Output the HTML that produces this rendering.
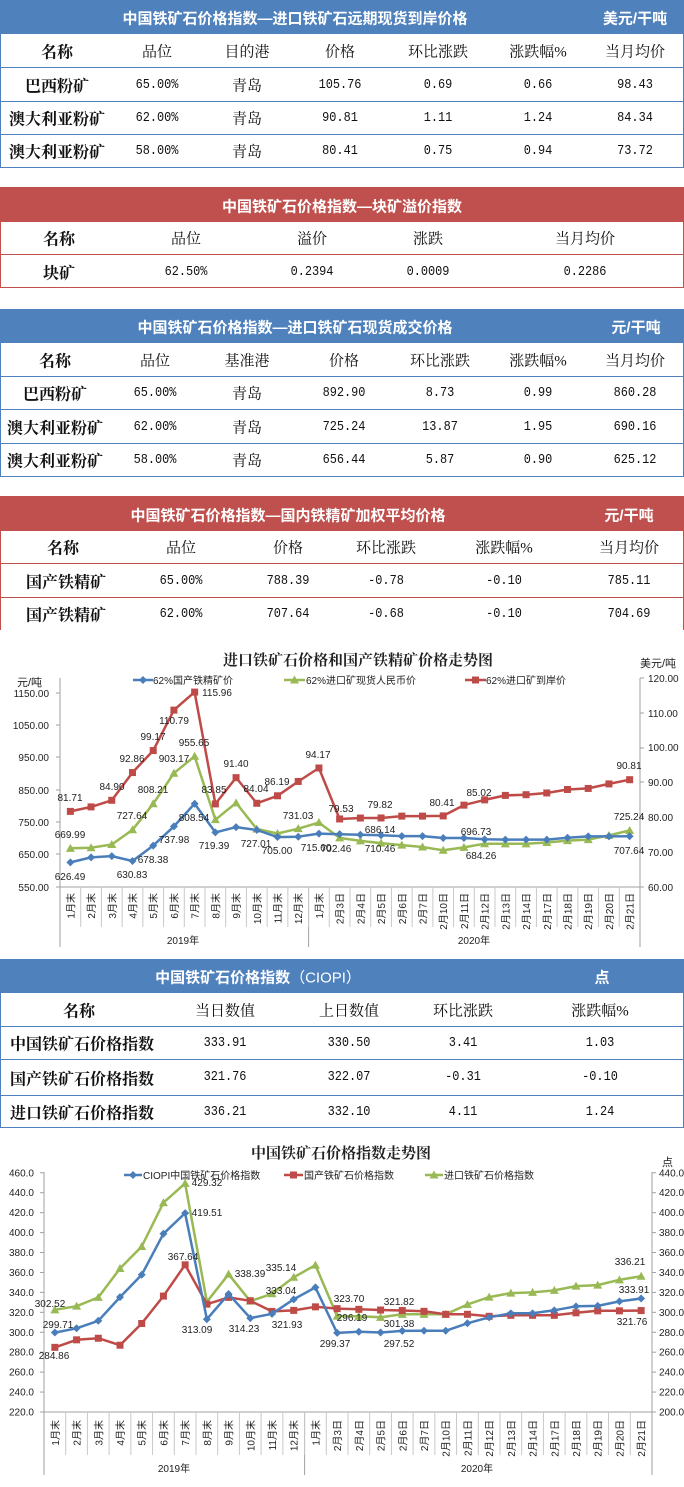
<!DOCTYPE html>
<html><head><meta charset="utf-8">
<style>
*{margin:0;padding:0;box-sizing:border-box}
body{width:684px;height:1487px;position:relative;background:#fff;overflow:hidden;font-family:"Liberation Sans","Noto Sans CJK SC",sans-serif}
.hd{position:absolute;left:0;width:684px;color:#fff;font-weight:bold;font-size:15px;font-family:"Liberation Sans","Noto Sans CJK SC",sans-serif}
.bl{background:#4f81bd}.rd{background:#c0504d}
.box{position:absolute;left:0;width:684px;border-left:1px solid;border-right:1px solid}
.ln{position:absolute;left:0;width:684px;height:1px}
.t{position:absolute;transform:translate(-50%,-50%);white-space:nowrap;color:#111}
.h{font-family:"Liberation Serif","Noto Serif CJK SC",serif;font-size:15px}
.n{font-family:"Liberation Serif","Noto Serif CJK SC",serif;font-size:16px;font-weight:bold}
.m{font-family:"Liberation Mono",monospace;font-size:14px;transform:translate(-50%,-50%) scaleX(0.85)}
.w{color:#fff;font-weight:bold;font-size:15px}
.L{position:absolute;transform:translateY(-50%);white-space:nowrap;color:#111}
svg{position:absolute;left:0;top:0}
svg text{font-family:"Liberation Sans","Noto Sans CJK SC",sans-serif;fill:#222}
</style></head><body>

<!-- Table 1 -->
<div class="hd bl" style="top:0;height:34px"></div>
<div class="t w" style="left:295px;top:18px">中国铁矿石价格指数—进口铁矿石远期现货到岸价格</div>
<div class="t w" style="left:635px;top:18px">美元/干吨</div>
<div class="box" style="top:34px;height:134px;border-color:#4f81bd"></div>
<div class="ln" style="top:67px;background:#4f81bd"></div>
<div class="ln" style="top:101px;background:#4f81bd"></div>
<div class="ln" style="top:134px;background:#4f81bd"></div>
<div class="ln" style="top:167px;background:#4f81bd"></div>
<div class="t n" style="left:57px;top:51px">名称</div>
<div class="t h" style="left:157px;top:51px">品位</div>
<div class="t h" style="left:247px;top:51px">目的港</div>
<div class="t h" style="left:340px;top:51px">价格</div>
<div class="t h" style="left:438px;top:51px">环比涨跌</div>
<div class="t h" style="left:538px;top:51px">涨跌幅%</div>
<div class="t h" style="left:635px;top:51px">当月均价</div>
<div class="t n" style="left:57px;top:85px">巴西粉矿</div>
<div class="t m" style="left:157px;top:85px">65.00%</div>
<div class="t h" style="left:247px;top:85px">青岛</div>
<div class="t m" style="left:340px;top:85px">105.76</div>
<div class="t m" style="left:438px;top:85px">0.69</div>
<div class="t m" style="left:538px;top:85px">0.66</div>
<div class="t m" style="left:635px;top:85px">98.43</div>
<div class="t n" style="left:57px;top:118px">澳大利亚粉矿</div>
<div class="t m" style="left:157px;top:118px">62.00%</div>
<div class="t h" style="left:247px;top:118px">青岛</div>
<div class="t m" style="left:340px;top:118px">90.81</div>
<div class="t m" style="left:438px;top:118px">1.11</div>
<div class="t m" style="left:538px;top:118px">1.24</div>
<div class="t m" style="left:635px;top:118px">84.34</div>
<div class="t n" style="left:57px;top:151px">澳大利亚粉矿</div>
<div class="t m" style="left:157px;top:151px">58.00%</div>
<div class="t h" style="left:247px;top:151px">青岛</div>
<div class="t m" style="left:340px;top:151px">80.41</div>
<div class="t m" style="left:438px;top:151px">0.75</div>
<div class="t m" style="left:538px;top:151px">0.94</div>
<div class="t m" style="left:635px;top:151px">73.72</div>

<!-- Table 2 -->
<div class="hd rd" style="top:187px;height:35px"></div>
<div class="t w" style="left:342px;top:206px">中国铁矿石价格指数—块矿溢价指数</div>
<div class="box" style="top:222px;height:66px;border-color:#c0504d"></div>
<div class="ln" style="top:221px;background:#c0504d"></div>
<div class="ln" style="top:254px;background:#c0504d"></div>
<div class="ln" style="top:287px;background:#c0504d"></div>
<div class="t n" style="left:59px;top:238px">名称</div>
<div class="t h" style="left:186px;top:238px">品位</div>
<div class="t h" style="left:312px;top:238px">溢价</div>
<div class="t h" style="left:428px;top:238px">涨跌</div>
<div class="t h" style="left:585px;top:238px">当月均价</div>
<div class="t n" style="left:59px;top:272px">块矿</div>
<div class="t m" style="left:186px;top:272px">62.50%</div>
<div class="t m" style="left:312px;top:272px">0.2394</div>
<div class="t m" style="left:428px;top:272px">0.0009</div>
<div class="t m" style="left:585px;top:272px">0.2286</div>

<!-- Table 3 -->
<div class="hd bl" style="top:309px;height:34px"></div>
<div class="t w" style="left:295px;top:327px">中国铁矿石价格指数—进口铁矿石现货成交价格</div>
<div class="t w" style="left:636px;top:327px">元/干吨</div>
<div class="box" style="top:343px;height:134px;border-color:#4f81bd"></div>
<div class="ln" style="top:376px;background:#4f81bd"></div>
<div class="ln" style="top:409px;background:#4f81bd"></div>
<div class="ln" style="top:443px;background:#4f81bd"></div>
<div class="ln" style="top:476px;background:#4f81bd"></div>
<div class="t n" style="left:55px;top:360px">名称</div>
<div class="t h" style="left:155px;top:360px">品位</div>
<div class="t h" style="left:247px;top:360px">基准港</div>
<div class="t h" style="left:344px;top:360px">价格</div>
<div class="t h" style="left:440px;top:360px">环比涨跌</div>
<div class="t h" style="left:538px;top:360px">涨跌幅%</div>
<div class="t h" style="left:635px;top:360px">当月均价</div>
<div class="t n" style="left:55px;top:393px">巴西粉矿</div>
<div class="t m" style="left:155px;top:393px">65.00%</div>
<div class="t h" style="left:247px;top:393px">青岛</div>
<div class="t m" style="left:344px;top:393px">892.90</div>
<div class="t m" style="left:440px;top:393px">8.73</div>
<div class="t m" style="left:538px;top:393px">0.99</div>
<div class="t m" style="left:635px;top:393px">860.28</div>
<div class="t n" style="left:55px;top:427px">澳大利亚粉矿</div>
<div class="t m" style="left:155px;top:427px">62.00%</div>
<div class="t h" style="left:247px;top:427px">青岛</div>
<div class="t m" style="left:344px;top:427px">725.24</div>
<div class="t m" style="left:440px;top:427px">13.87</div>
<div class="t m" style="left:538px;top:427px">1.95</div>
<div class="t m" style="left:635px;top:427px">690.16</div>
<div class="t n" style="left:55px;top:460px">澳大利亚粉矿</div>
<div class="t m" style="left:155px;top:460px">58.00%</div>
<div class="t h" style="left:247px;top:460px">青岛</div>
<div class="t m" style="left:344px;top:460px">656.44</div>
<div class="t m" style="left:440px;top:460px">5.87</div>
<div class="t m" style="left:538px;top:460px">0.90</div>
<div class="t m" style="left:635px;top:460px">625.12</div>

<!-- Table 4 -->
<div class="hd rd" style="top:496px;height:35px"></div>
<div class="t w" style="left:288px;top:515px">中国铁矿石价格指数—国内铁精矿加权平均价格</div>
<div class="t w" style="left:629px;top:515px">元/干吨</div>
<div class="box" style="top:531px;height:99px;border-color:#c0504d"></div>
<div class="ln" style="top:530px;background:#c0504d"></div>
<div class="ln" style="top:563px;background:#c0504d"></div>
<div class="ln" style="top:597px;background:#c0504d"></div>
<div class="t n" style="left:63px;top:547px">名称</div>
<div class="t h" style="left:181px;top:547px">品位</div>
<div class="t h" style="left:288px;top:547px">价格</div>
<div class="t h" style="left:386px;top:547px">环比涨跌</div>
<div class="t h" style="left:504px;top:547px">涨跌幅%</div>
<div class="t h" style="left:629px;top:547px">当月均价</div>
<div class="t n" style="left:66px;top:581px">国产铁精矿</div>
<div class="t m" style="left:181px;top:581px">65.00%</div>
<div class="t m" style="left:288px;top:581px">788.39</div>
<div class="t m" style="left:386px;top:581px">-0.78</div>
<div class="t m" style="left:504px;top:581px">-0.10</div>
<div class="t m" style="left:629px;top:581px">785.11</div>
<div class="t n" style="left:66px;top:614px">国产铁精矿</div>
<div class="t m" style="left:181px;top:614px">62.00%</div>
<div class="t m" style="left:288px;top:614px">707.64</div>
<div class="t m" style="left:386px;top:614px">-0.68</div>
<div class="t m" style="left:504px;top:614px">-0.10</div>
<div class="t m" style="left:629px;top:614px">704.69</div>

<!-- Table 5 -->
<div class="hd bl" style="top:959px;height:34px"></div>
<div class="t w" style="left:258px;top:977px">中国铁矿石价格指数<span style="font-weight:normal">（CIOPI）</span></div>
<div class="t w" style="left:602px;top:977px">点</div>
<div class="box" style="top:993px;height:135px;border-color:#4f81bd"></div>
<div class="ln" style="top:1026px;background:#4f81bd"></div>
<div class="ln" style="top:1059px;background:#4f81bd"></div>
<div class="ln" style="top:1095px;background:#4f81bd"></div>
<div class="ln" style="top:1127px;background:#4f81bd"></div>
<div class="t n" style="left:79px;top:1010px">名称</div>
<div class="t h" style="left:225px;top:1010px">当日数值</div>
<div class="t h" style="left:349px;top:1010px">上日数值</div>
<div class="t h" style="left:463px;top:1010px">环比涨跌</div>
<div class="t h" style="left:600px;top:1010px">涨跌幅%</div>
<div class="L n" style="left:10px;top:1043px">中国铁矿石价格指数</div>
<div class="t m" style="left:225px;top:1043px">333.91</div>
<div class="t m" style="left:349px;top:1043px">330.50</div>
<div class="t m" style="left:463px;top:1043px">3.41</div>
<div class="t m" style="left:600px;top:1043px">1.03</div>
<div class="L n" style="left:10px;top:1078px">国产铁矿石价格指数</div>
<div class="t m" style="left:225px;top:1077px">321.76</div>
<div class="t m" style="left:349px;top:1077px">322.07</div>
<div class="t m" style="left:463px;top:1077px">-0.31</div>
<div class="t m" style="left:600px;top:1077px">-0.10</div>
<div class="L n" style="left:10px;top:1112px">进口铁矿石价格指数</div>
<div class="t m" style="left:225px;top:1112px">336.21</div>
<div class="t m" style="left:349px;top:1112px">332.10</div>
<div class="t m" style="left:463px;top:1112px">4.11</div>
<div class="t m" style="left:600px;top:1112px">1.24</div>

<svg id="g" width="684" height="1487" viewBox="0 0 684 1487"></svg>

<svg width="684" height="1487" viewBox="0 0 684 1487">
<!-- chart 1 text -->
<text x="358" y="665" font-size="15" font-weight="bold" text-anchor="middle" style="font-family:'Liberation Serif','Noto Serif CJK SC',serif">进口铁矿石价格和国产铁精矿价格走势图</text>
<text x="17" y="686" font-size="11">元/吨</text>
<text x="640" y="667" font-size="11">美元/吨</text>
<g font-size="10" text-anchor="end">
<text x="49" y="697">1150.00</text><text x="49" y="729">1050.00</text><text x="49" y="761">950.00</text><text x="49" y="794">850.00</text><text x="49" y="826">750.00</text><text x="49" y="858">650.00</text><text x="49" y="891">550.00</text>
</g>
<g font-size="10">
<text x="648" y="682">120.00</text><text x="648" y="717">110.00</text><text x="648" y="751">100.00</text><text x="648" y="786">90.00</text><text x="648" y="821">80.00</text><text x="648" y="856">70.00</text><text x="648" y="891">60.00</text>
</g>
<g font-size="10">
<text x="153" y="684">62%国产铁精矿价</text>
<text x="306" y="684">62%进口矿现货人民币价</text>
<text x="486" y="684">62%进口矿到岸价</text>
</g>
<g font-size="10" text-anchor="middle">
<text x="70" y="801">81.71</text><text x="70" y="838">669.99</text><text x="70" y="880">626.49</text>
<text x="112" y="790">84.90</text><text x="132" y="762">92.86</text><text x="132" y="819">727.64</text><text x="132" y="878">630.83</text>
<text x="153" y="740">99.17</text><text x="153" y="793">808.21</text><text x="153" y="863">678.38</text>
<text x="174" y="724">110.79</text><text x="174" y="762">903.17</text><text x="174" y="843">737.98</text>
<text x="217" y="696">115.96</text><text x="194" y="746">955.65</text><text x="194" y="821">808.54</text>
<text x="214" y="793">83.85</text><text x="214" y="849">719.39</text><text x="236" y="767">91.40</text>
<text x="256" y="792">84.04</text><text x="256" y="847">727.01</text><text x="277" y="785">86.19</text><text x="277" y="854">705.00</text>
<text x="298" y="819">731.03</text><text x="318" y="758">94.17</text><text x="316" y="851">715.60</text><text x="336" y="852">702.46</text>
<text x="341" y="812">79.53</text><text x="380" y="808">79.82</text><text x="380" y="833">686.14</text><text x="380" y="852">710.46</text>
<text x="442" y="806">80.41</text><text x="476" y="835">696.73</text><text x="481" y="859">684.26</text><text x="479" y="796">85.02</text>
<text x="629" y="769">90.81</text><text x="629" y="820">725.24</text><text x="629" y="854">707.64</text>
</g>
<g font-size="10" text-anchor="end" id="cat1"></g>
<text x="183" y="944" font-size="10" text-anchor="middle">2019年</text>
<text x="474" y="944" font-size="10" text-anchor="middle">2020年</text>

<!-- chart 2 text -->
<text x="341" y="1158" font-size="15" font-weight="bold" text-anchor="middle" style="font-family:'Liberation Serif','Noto Serif CJK SC',serif">中国铁矿石价格指数走势图</text>
<text x="662" y="1166" font-size="11">点</text>
<g font-size="10" text-anchor="end" id="yl2"></g>
<g font-size="10" id="yr2"></g>
<g font-size="10">
<text x="143" y="1179">CIOPI中国铁矿石价格指数</text>
<text x="304" y="1179">国产铁矿石价格指数</text>
<text x="444" y="1179">进口铁矿石价格指数</text>
</g>
<g font-size="10" text-anchor="middle">
<text x="50" y="1307">302.52</text><text x="58" y="1328">299.71</text><text x="54" y="1359">284.86</text>
<text x="207" y="1186">429.32</text><text x="207" y="1216">419.51</text><text x="183" y="1260">367.64</text>
<text x="197" y="1333">313.09</text><text x="250" y="1277">338.39</text><text x="244" y="1332">314.23</text>
<text x="281" y="1271">335.14</text><text x="281" y="1294">333.04</text><text x="287" y="1328">321.93</text>
<text x="349" y="1302">323.70</text><text x="352" y="1321">296.19</text><text x="335" y="1347">299.37</text>
<text x="399" y="1305">321.82</text><text x="399" y="1327">301.38</text><text x="399" y="1347">297.52</text>
<text x="630" y="1265">336.21</text><text x="634" y="1293">333.91</text><text x="632" y="1325">321.76</text>
</g>
<g font-size="10" text-anchor="end" id="cat2"></g>
<text x="174" y="1472" font-size="10" text-anchor="middle">2019年</text>
<text x="477" y="1472" font-size="10" text-anchor="middle">2020年</text>
</svg>

<script>
var cats=["1月末","2月末","3月末","4月末","5月末","6月末","7月末","8月末","9月末","10月末","11月末","12月末","1月末","2月3日","2月4日","2月5日","2月6日","2月7日","2月10日","2月11日","2月12日","2月13日","2月14日","2月17日","2月18日","2月19日","2月20日","2月21日"];
var NS="http://www.w3.org/2000/svg";
function el(p,t,a,txt){var e=document.createElementNS(NS,t);for(var k in a)e.setAttribute(k,a[k]);if(txt!=null)e.textContent=txt;p.appendChild(e);return e;}
var g=document.getElementById('g');
var B="#4a7ebb",R="#be4b48",G="#98b954",AX="#a0a0a0";
function series(xs,ys,col,mk){
  var pts=xs.map(function(x,i){return x.toFixed(1)+","+ys[i].toFixed(1)}).join(" ");
  el(g,'polyline',{points:pts,fill:'none',stroke:col,'stroke-width':2.5,'stroke-linejoin':'round'});
  xs.forEach(function(x,i){var y=ys[i];
    if(mk=='d')el(g,'polygon',{points:(x)+","+(y-4)+" "+(x+4)+","+y+" "+x+","+(y+4)+" "+(x-4)+","+y,fill:col});
    else if(mk=='s')el(g,'rect',{x:x-3.5,y:y-3.5,width:7,height:7,fill:col});
    else el(g,'polygon',{points:x+","+(y-4.5)+" "+(x+4.5)+","+(y+3.5)+" "+(x-4.5)+","+(y+3.5),fill:col});
  });
}
// chart 1
var x1=cats.map(function(c,i){return 70.36+20.714*i});
function yL(v){return 887-(v-550)*0.3222}
function yR(r){return 887-(r-60)*3.483}
el(g,'line',{x1:60,y1:678,x2:60,y2:947,stroke:AX});
el(g,'line',{x1:640,y1:678,x2:640,y2:947,stroke:AX});
el(g,'line',{x1:60,y1:887,x2:640,y2:887,stroke:AX});
el(g,'line',{x1:308.6,y1:887,x2:308.6,y2:947,stroke:AX});
for(var i=1;i<28;i++){var xx=60+20.714*i;el(g,'line',{x1:xx,y1:887,x2:xx,y2:927,stroke:'#c8c8c8'});}
[693,725,757,790,822,854,887].forEach(function(y){el(g,'line',{x1:56,y1:y,x2:60,y2:y,stroke:AX})});
[678,713,748,782,817,852,887].forEach(function(y){el(g,'line',{x1:640,y1:y,x2:644,y2:y,stroke:AX})});
var b1=[626.49,642,646,630.83,678.38,737.98,808.54,719.39,736,727.01,705,706,715.6,714,712,710.46,708,708,702,702,698,697,697,697,703,707,707,707.64];
var gr1=[669.99,672,682,727.64,808.21,903.17,955.65,759,811,730,716,731.03,750,702.46,693,686.14,680,674,664,673,684.26,684,684,688,694,697,710,725.24];
var r1=[81.71,83,84.9,92.86,99.17,110.79,115.96,83.85,91.4,84.04,86.19,90.3,94.17,79.53,79.8,79.82,80.35,80.35,80.41,83.5,85.02,86.3,86.5,87.0,88.0,88.3,89.6,90.81];
series(x1,gr1.map(yL),G,'t');
series(x1,b1.map(yL),B,'d');
series(x1,r1.map(yR),R,'s');
// legend 1
el(g,'line',{x1:133,y1:680,x2:153,y2:680,stroke:B,'stroke-width':2.5});el(g,'polygon',{points:"143,676 147,680 143,684 139,680",fill:B});
el(g,'line',{x1:284,y1:680,x2:305,y2:680,stroke:G,'stroke-width':2.5});el(g,'polygon',{points:"294.5,675.5 299,683.5 290,683.5",fill:G});
el(g,'line',{x1:465,y1:680,x2:486,y2:680,stroke:R,'stroke-width':2.5});el(g,'rect',{x:472,y:676.5,width:7,height:7,fill:R});
var c1=document.getElementById('cat1');
x1.forEach(function(x,i){el(c1,'text',{x:x+4,y:893,transform:'rotate(-90 '+(x+4)+' 893)'},cats[i])});
// chart 2
var x2=cats.map(function(c,i){return 54.86+21.714*i});
function y2(v){return 1412-(v-220)*0.9967}
el(g,'line',{x1:44,y1:1172,x2:44,y2:1475,stroke:AX});
el(g,'line',{x1:652,y1:1172,x2:652,y2:1475,stroke:AX});
el(g,'line',{x1:44,y1:1412,x2:652,y2:1412,stroke:AX});
el(g,'line',{x1:304.6,y1:1412,x2:304.6,y2:1475,stroke:AX});
for(var i=1;i<28;i++){var xx=44+21.714*i;el(g,'line',{x1:xx,y1:1412,x2:xx,y2:1455,stroke:'#c8c8c8'});}
var yl=document.getElementById('yl2'),yr=document.getElementById('yr2');
for(var v=220;v<=460;v+=20){var yy=y2(v);
 el(g,'line',{x1:40,y1:yy,x2:44,y2:yy,stroke:AX});el(g,'line',{x1:652,y1:yy,x2:656,y2:yy,stroke:AX});
 el(yl,'text',{x:34,y:yy+3.5},v.toFixed(1));el(yr,'text',{x:659,y:yy+3.5},(v-20).toFixed(1));}
var b2=[299.71,304,311.5,335.3,357.7,398.8,419.51,313.09,338.39,314.23,318.5,333.04,345,299.37,300.5,299.8,301.38,301.5,301.5,309,315,319,319,322,326,326.5,331,333.91];
var rr2=[284.86,292.4,294,287,308.8,336.3,367.64,328.2,335,331.6,320.9,321.93,325.5,323.7,323,322.3,321.82,321,318,318,316,317,317,317,319.5,321.5,321.5,321.76];
var g2=[322.52,326.2,335,364,386,430,449.32,330.6,358.3,331.2,338.6,355.14,367.4,316.19,316,315,318,318,318,327.9,335.3,339.3,340,342,346.3,347.3,352.6,356.21];
series(x2,g2.map(y2),G,'t');
series(x2,rr2.map(y2),R,'s');
series(x2,b2.map(y2),B,'d');
el(g,'line',{x1:124,y1:1175,x2:142,y2:1175,stroke:B,'stroke-width':2.5});el(g,'polygon',{points:"133,1171 137,1175 133,1179 129,1175",fill:B});
el(g,'line',{x1:284,y1:1175,x2:303,y2:1175,stroke:R,'stroke-width':2.5});el(g,'rect',{x:290,y:1171.5,width:7,height:7,fill:R});
el(g,'line',{x1:425,y1:1175,x2:443,y2:1175,stroke:G,'stroke-width':2.5});el(g,'polygon',{points:"434,1170.5 438.5,1178.5 429.5,1178.5",fill:G});
var c2=document.getElementById('cat2');
x2.forEach(function(x,i){el(c2,'text',{x:x+4,y:1420,transform:'rotate(-90 '+(x+4)+' 1420)'},cats[i])});
</script>
</body></html>
